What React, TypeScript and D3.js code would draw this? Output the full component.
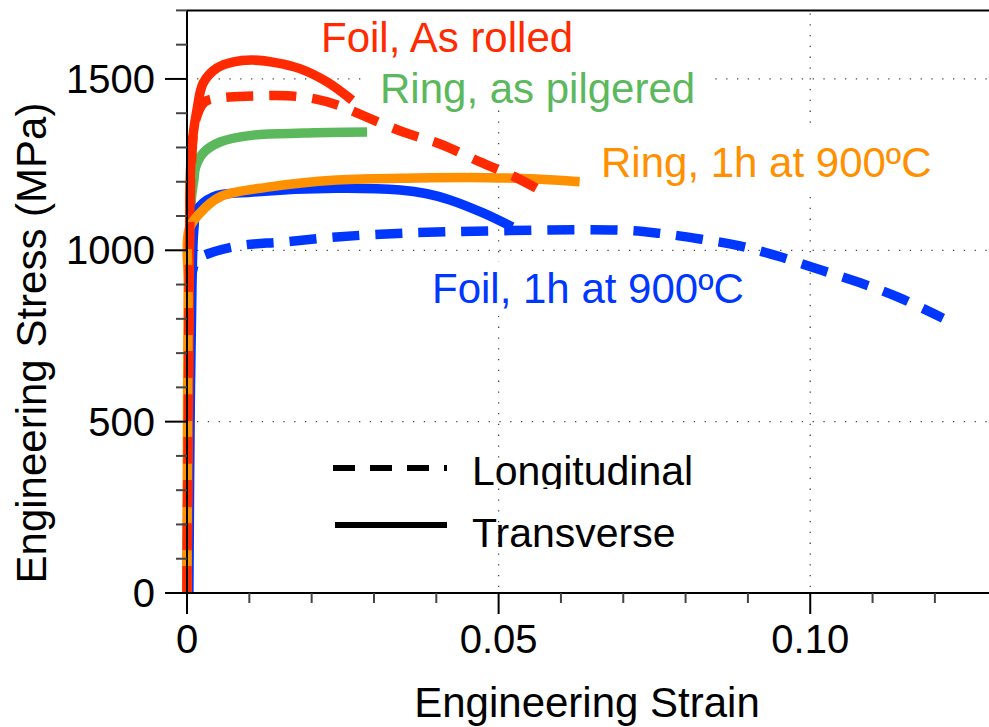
import React from "react";
import * as d3 from "d3";

type P = [number, number];

// Series (strain, stress MPa)
const foilAsRolledTransverse: P[] = [
  [0, 0], [0.0002, 500], [0.0004, 1000], [0.0006, 1250], [0.001, 1340],
  [0.0016, 1410], [0.0026, 1488], [0.0048, 1532], [0.0075, 1550], [0.0105, 1555],
  [0.0144, 1547], [0.0181, 1530], [0.0225, 1491], [0.0265, 1438],
];
const foilAsRolledLongitudinal: P[] = [
  [0, 0], [0.0002, 500], [0.0004, 1000], [0.0007, 1250], [0.0014, 1380],
  [0.0028, 1432], [0.005, 1444], [0.0105, 1450], [0.016, 1451], [0.0205, 1442],
  [0.024, 1425], [0.028, 1395], [0.0347, 1345], [0.0406, 1310], [0.047, 1258],
  [0.0525, 1215], [0.058, 1162],
];
const ringPilgeredTransverse: P[] = [
  [0, 0], [0.0003, 500], [0.0005, 800], [0.0006, 1000], [0.0007, 1150],
  [0.0011, 1205], [0.0014, 1243], [0.0026, 1284], [0.0053, 1316], [0.0106, 1336],
  [0.0186, 1342], [0.0289, 1345],
];
const ring900Transverse: P[] = [
  [0, 0], [0.0001, 600], [0.0002, 900], [0.0003, 1059], [0.0021, 1109],
  [0.0053, 1156], [0.0133, 1185], [0.024, 1205], [0.0369, 1211], [0.048, 1212],
  [0.056, 1208], [0.063, 1200],
];
const foil900Transverse: P[] = [
  [0.0003, 0], [0.0005, 500], [0.0008, 900], [0.0011, 1060], [0.0016, 1117],
  [0.0042, 1156], [0.0106, 1170], [0.024, 1181], [0.0342, 1176], [0.0385, 1165],
  [0.0422, 1147], [0.0475, 1109], [0.0522, 1068],
];
const foil900Longitudinal: P[] = [
  [0, 0], [0.0002, 500], [0.0004, 800], [0.0007, 920], [0.0016, 972],
  [0.0042, 995], [0.009, 1015], [0.0154, 1024], [0.024, 1039], [0.0347, 1050],
  [0.05, 1057], [0.0695, 1059], [0.0756, 1050], [0.0823, 1033], [0.0887, 1013],
  [0.0952, 981], [0.1016, 943], [0.108, 905], [0.114, 864], [0.1213, 802],
];

const xMajorTicks = [0, 0.05, 0.1];
const xTickLabels = ["0", "0.05", "0.10"];
const yMajorTicks = [0, 500, 1000, 1500];
const yTickLabels = ["0", "500", "1000", "1500"];

const RED = "#ff2a00";
const GREEN = "#5cb85c";
const ORANGE = "#ff9000";
const BLUE = "#0037ff";
const FONT = "'Liberation Sans', Arial, Helvetica, sans-serif";

export default function App() {
  const x = d3.scaleLinear().domain([0, 0.13]).range([187, 997.2]);
  const y = d3.scaleLinear().domain([0, 1700]).range([593, 10.4]);
  const line = d3
    .line<P>()
    .x((d) => x(d[0]))
    .y((d) => y(d[1]))
    .curve(d3.curveCatmullRom.alpha(0.5));

  const xMinor = d3.range(1, 13).map((i) => i * 0.01).filter((v) => Math.abs(v - 0.05) > 1e-9 && Math.abs(v - 0.1) > 1e-9);
  const yMinor = d3.range(1, 18).map((i) => i * 100).filter((v) => v % 500 !== 0);

  const series: { data: P[]; color: string; dashed: boolean }[] = [
    { data: ringPilgeredTransverse, color: GREEN, dashed: false },
    { data: foil900Longitudinal, color: BLUE, dashed: true },
    { data: foil900Transverse, color: BLUE, dashed: false },
    { data: foilAsRolledTransverse, color: RED, dashed: false },
    { data: ring900Transverse, color: ORANGE, dashed: false },
    { data: foilAsRolledLongitudinal, color: RED, dashed: true },
  ];

  const x0 = x(0);
  const xEnd = 989;
  const yTop = y(1700);
  const yBot = y(0);

  return (
    <svg
      width={989}
      height={727}
      style={{ position: "absolute", left: 0, top: 0, background: "#fff" }}
      fontFamily={FONT}
    >
      <rect x={0} y={0} width={989} height={727} fill="#fff" />
      <text x={472} y={485} fontSize={41} fill="#000">Longitudinal</text>
      <rect x={462} y={489} width={230} height={66} fill="#fff" />

      {/* gridlines */}
      {yMajorTicks.filter((v) => v > 0).map((v) => (
        <line key={"gy" + v} x1={x0 + 10} x2={xEnd} y1={y(v)} y2={y(v)} stroke="#444" strokeWidth={1.3} strokeDasharray="1.3 9.5" />
      ))}
      {xMajorTicks.filter((v) => v > 0).map((v) => (
        <line key={"gx" + v} x1={x(v)} x2={x(v)} y1={yTop + 3} y2={yBot} stroke="#444" strokeWidth={1.3} strokeDasharray="1.3 9.5" />
      ))}

      {/* label background boxes */}
      <rect x={305} y={12} width={285} height={52} fill="#fff" />
      <rect x={362} y={62} width={350} height={48} fill="#fff" />
      <rect x={590} y={125} width={362} height={66} fill="#fff" />
      <rect x={422} y={262} width={340} height={54} fill="#fff" />

      {/* data */}
      {series.map((s, i) => (
        <path
          key={i}
          d={line(s.data) || ""}
          fill="none"
          stroke={s.color}
          strokeWidth={9.5}
          strokeDasharray={s.dashed ? "27 16" : undefined}
          strokeLinejoin="round"
        />
      ))}

      {/* axes */}
      <line x1={x0} x2={x0} y1={yTop} y2={yBot + 21} stroke="#000" strokeWidth={2} />
      <line x1={x0} x2={xEnd} y1={yTop} y2={yTop} stroke="#000" strokeWidth={2} />
      <line x1={x0 - 22} x2={xEnd} y1={yBot} y2={yBot} stroke="#000" strokeWidth={2} />
      {yMajorTicks.map((v) => (
        <line key={"ty" + v} x1={x0 - 22} x2={x0} y1={y(v)} y2={y(v)} stroke="#000" strokeWidth={2} />
      ))}
      {yMinor.map((v) => (
        <line key={"tym" + v} x1={x0 - 11} x2={x0} y1={y(v)} y2={y(v)} stroke="#444" strokeWidth={2} />
      ))}
      {xMajorTicks.map((v) => (
        <line key={"tx" + v} x1={x(v)} x2={x(v)} y1={yBot} y2={yBot + 21} stroke="#000" strokeWidth={2} />
      ))}
      {xMinor.map((v) => (
        <line key={"txm" + v} x1={x(v)} x2={x(v)} y1={yBot} y2={yBot + 10} stroke="#444" strokeWidth={2} />
      ))}

      {/* tick labels */}
      {yMajorTicks.map((v, i) => (
        <text key={"ly" + v} x={155} y={y(v) + 14} fontSize={40} textAnchor="end" fill="#000">
          {yTickLabels[i]}
        </text>
      ))}
      {xMajorTicks.map((v, i) => (
        <text key={"lx" + v} x={x(v)} y={653} fontSize={40} textAnchor="middle" fill="#000">
          {xTickLabels[i]}
        </text>
      ))}

      {/* axis titles */}
      <text x={587} y={717} fontSize={42} textAnchor="middle" fill="#000">Engineering Strain</text>
      <text transform="translate(46,343) rotate(-90)" fontSize={42} textAnchor="middle" fill="#000">
        Engineering Stress (MPa)
      </text>

      {/* series labels */}
      <text x={321} y={52} fontSize={42} fill={RED}>Foil, As rolled</text>
      <text x={380} y={103} fontSize={42} fill={GREEN}>Ring, as pilgered</text>
      <text x={601} y={177} fontSize={42} fill={ORANGE}>Ring, 1h at 900ºC</text>
      <text x={432} y={303} fontSize={42} fill={BLUE}>Foil, 1h at 900ºC</text>

      {/* legend */}
      <line x1={333} x2={447} y1={468} y2={468} stroke="#000" strokeWidth={6} strokeDasharray="22 15" />
      <line x1={335} x2={447} y1={525} y2={525} stroke="#000" strokeWidth={6} />
      <text x={472} y={547} fontSize={41} fill="#000">Transverse</text>
    </svg>
  );
}
